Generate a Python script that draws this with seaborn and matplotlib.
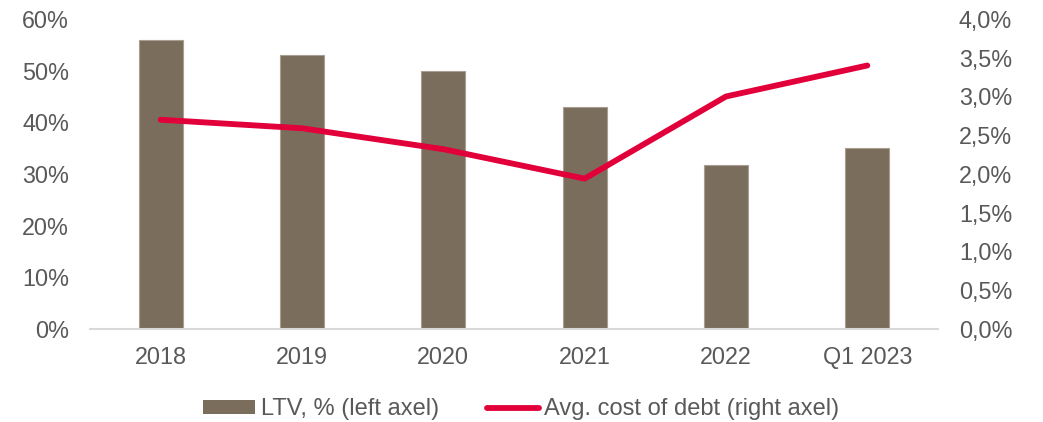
import matplotlib
matplotlib.use("Agg")
import matplotlib.pyplot as plt
import seaborn as sns
import pandas as pd
from matplotlib.patches import Patch
from matplotlib.lines import Line2D
from matplotlib.ticker import FuncFormatter, MultipleLocator

categories = ["2018", "2019", "2020", "2021", "2022", "Q1 2023"]
ltv = [56.0, 53.0, 50.0, 43.0, 31.7, 35.0]
cost_of_debt = [2.70, 2.59, 2.32, 1.94, 3.00, 3.40]
legend_labels = ["LTV, % (left axel)", "Avg. cost of debt (right axel)"]

BAR_COLOR = "#7a6d5c"
LINE_COLOR = "#e2003b"
TEXT_COLOR = "#595959"
TICK_SIZE = 16.8
LEGEND_SIZE = 17.0

sns.set_theme(style="white")
plt.rcParams["font.family"] = ["Liberation Sans", "DejaVu Sans"]

df = pd.DataFrame({"year": categories, "ltv": ltv, "cost": cost_of_debt})

fig = plt.figure(figsize=(10.43, 4.22), dpi=100)
ax = fig.add_axes([0.0863, 0.2204, 0.8130, 0.7346])

# LTV bars on the left axis
sns.barplot(data=df, x="year", y="ltv", color=BAR_COLOR, saturation=1,
            width=0.31, edgecolor="#a89e92", linewidth=0.8, ax=ax)
ax.set_ylim(0, 60)
ax.set_xlim(-0.5, 5.5)
ax.yaxis.set_major_locator(MultipleLocator(10))
ax.yaxis.set_major_formatter(FuncFormatter(lambda v, p: f"{v:.0f}%"))

# Cost of debt line on the right axis
ax2 = ax.twinx()
sns.pointplot(data=df, x="year", y="cost", color=LINE_COLOR, markers="",
              linestyles="-", ax=ax2, zorder=5)
for ln in ax2.lines:
    ln.set_linewidth(4.2)
    ln.set_solid_capstyle("round")
    ln.set_solid_joinstyle("round")
ax2.set_ylim(0, 4.0)
ax2.set_xlim(-0.5, 5.5)
ax2.yaxis.set_major_locator(MultipleLocator(0.5))
ax2.yaxis.set_major_formatter(
    FuncFormatter(lambda v, p: f"{v:.1f}%".replace(".", ",")))

for a in (ax, ax2):
    for s in a.spines.values():
        s.set_visible(False)
    a.set_xlabel("")
    a.set_ylabel("")
    a.grid(False)

ax.spines["bottom"].set_visible(True)
ax.spines["bottom"].set_color("#d9d9d9")
ax.spines["bottom"].set_linewidth(1.5)

ax.tick_params(axis="x", length=0, pad=12, labelsize=TICK_SIZE, labelcolor=TEXT_COLOR)
ax.tick_params(axis="y", length=0, pad=15, labelsize=TICK_SIZE, labelcolor=TEXT_COLOR)
ax2.tick_params(axis="y", length=0, pad=15, labelsize=TICK_SIZE, labelcolor=TEXT_COLOR)

handles = [
    Patch(facecolor=BAR_COLOR, edgecolor="none"),
    Line2D([0], [0], color=LINE_COLOR, lw=4.2, solid_capstyle="round"),
]
leg = fig.legend(handles, legend_labels, loc="center", bbox_to_anchor=(0.5, 0.03),
                 ncol=2, frameon=False, fontsize=LEGEND_SIZE, handlelength=2.2,
                 handleheight=0.5, handletextpad=0.25, columnspacing=2.0,
                 borderpad=0, borderaxespad=0)
for t in leg.get_texts():
    t.set_color(TEXT_COLOR)

fig.savefig("out.png", dpi=100, facecolor="white")
